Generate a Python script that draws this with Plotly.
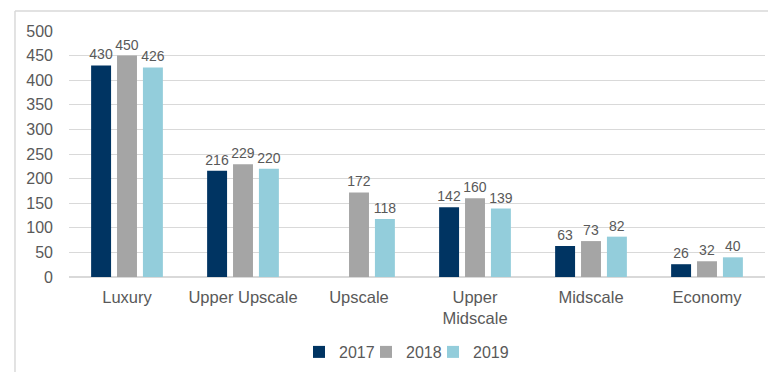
import plotly.graph_objects as go

categories = ["Luxury", "Upper Upscale", "Upscale", "Upper<br>Midscale", "Midscale", "Economy"]
years = ["2017", "2018", "2019"]
v2017 = [430, 216, None, 142, 63, 26]
v2018 = [450, 229, 172, 160, 73, 32]
v2019 = [426, 220, 118, 139, 82, 40]
colors = ["#003462", "#A5A5A5", "#93CDDB"]

W, H = 768, 364

fig = go.Figure()
for name, vals, c in zip(years, [v2017, v2018, v2019], colors):
    fig.add_trace(go.Bar(
        x=categories, y=vals, name=name, marker=dict(color=c, line=dict(width=0)),
        text=[("" if v is None else str(v)) for v in vals], textposition="outside",
        textfont=dict(size=14, color="#595959"), cliponaxis=False, constraintext="none",
    ))
# spacer legend entry (invisible) so the last legend label is not clipped
fig.add_trace(go.Scatter(x=[None], y=[None], mode="markers", name=" ",
                         marker=dict(color="rgba(0,0,0,0)"), hoverinfo="skip"))

fig.update_layout(
    width=W, height=H,
    margin=dict(l=61, r=11, t=23, b=95, autoexpand=False),
    paper_bgcolor="white", plot_bgcolor="white",
    font=dict(family="Liberation Sans, Arial", color="#595959"),
    barmode="group", bargap=0.33, bargroupgap=0.23,
    showlegend=True,
    legend=dict(orientation="h", x=291 / W, xref="container", xanchor="left",
                y=20 / H, yref="container", yanchor="middle",
                font=dict(size=16, color="#595959"), itemwidth=30, traceorder="normal",
                entrywidth=22, entrywidthmode="pixels"),
    yaxis=dict(range=[0, 500], dtick=50, showgrid=True, gridcolor="#D9D9D9", gridwidth=1,
               zeroline=True, zerolinecolor="#D9D9D9", tickfont=dict(size=16, color="#595959"),
               ticks="", showline=False, automargin=False, ticklabelstandoff=15),
    xaxis=dict(tickfont=dict(size=16.5, color="#595959"), ticks="", showline=False,
               automargin=False, ticklabelstandoff=8),
    shapes=[
        dict(type="line", xref="paper", yref="paper", x0=-0.0776, x1=-0.0776, y0=1.081, y1=-0.6,
             line=dict(color="#D9D9D9", width=1.5)),
        dict(type="line", xref="paper", yref="paper", x0=-0.0776, x1=1.1, y0=1.081, y1=1.081,
             line=dict(color="#D9D9D9", width=1.5)),
    ],
)

fig.write_html("out.html")
